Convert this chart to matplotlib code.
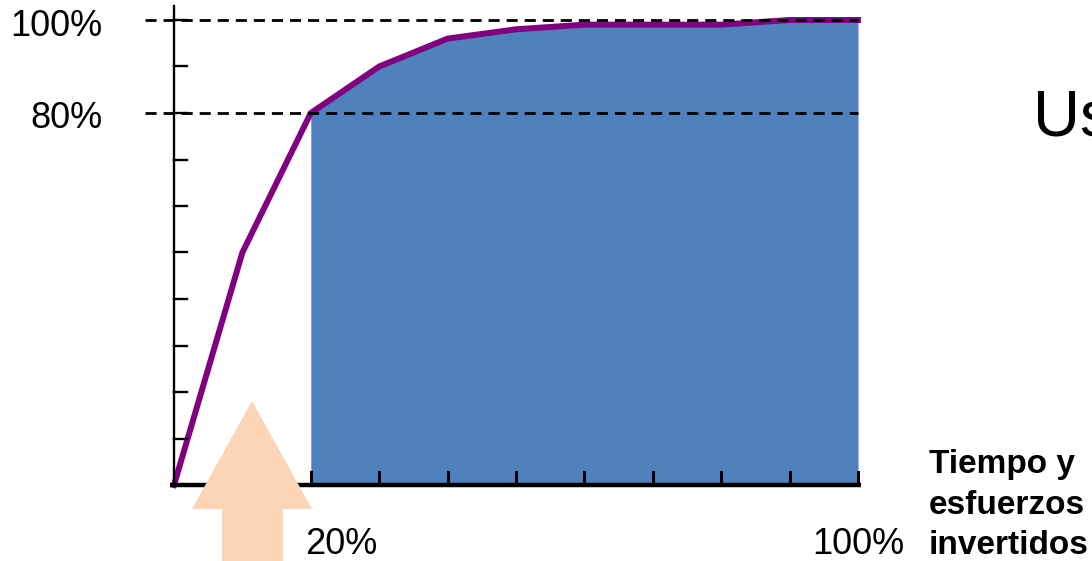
import matplotlib
matplotlib.use("Agg")
import matplotlib.pyplot as plt
from matplotlib.patches import Polygon
from matplotlib.transforms import Affine2D

plt.rcParams['font.family'] = ['Liberation Sans', 'DejaVu Sans']

# Cumulative share of results vs. share of effort (Pareto curve)
effort_pct = [0, 10, 20, 30, 40, 50, 60, 70, 80, 90, 100]
result_pct = [0, 50, 80, 90, 96, 98, 99, 99, 99, 100, 100]
x_tick_labels = {20: "20%", 100: "100%"}
y_tick_labels = {80: "80%", 100: "100%"}
axis_caption = "Tiempo y\nesfuerzos\ninvertidos"
side_title = "Us"

W, H = 1092, 561
fig = plt.figure(figsize=(W / 100, H / 100), dpi=100)
ax = fig.add_axes([174 / W, (H - 485) / H, 684 / W, 465 / H])
ax.set_xlim(0, 100)
ax.set_ylim(0, 100)
ax.axis("off")

# shaded region: the remaining 80% of effort
start = effort_pct.index(20)
ax.fill_between(effort_pct[start:], result_pct[start:], 0,
                color="#4F81BD", lw=0, zorder=1)

# curve
ax.plot(effort_pct, result_pct, color="#800080", lw=4.3,
        solid_joinstyle="miter", zorder=3, clip_on=False)

# axes lines
ax.plot([0, 0], [0, 103], color="black", lw=1.7, zorder=4, clip_on=False)
ax.plot([-0.6, 100.4], [0, 0], color="black", lw=3.2, zorder=4,
        clip_on=False, solid_capstyle="butt")

# ticks pointing inward
tick_len_x = 13 / 6.84
tick_len_y = 13 / 4.65
for v in range(10, 101, 10):
    ax.plot([0, tick_len_x], [v, v], color="black", lw=1.7, zorder=4,
            clip_on=False)
    ax.plot([v, v], [0, tick_len_y], color="black", lw=2.2, zorder=4,
            clip_on=False)

# reference dashed lines
for v in y_tick_labels:
    ax.plot([-4.2, 100], [v, v], color="black", lw=2.0,
            dashes=(4, 2.5), zorder=5, clip_on=False)

# tick labels
for v, s in y_tick_labels.items():
    ax.annotate(s, xy=(0, v), xytext=(-72, -6), textcoords="offset pixels",
                ha="right", va="center", fontsize=26, annotation_clip=False)
for v, s in x_tick_labels.items():
    dx = 30 if v == 20 else 0
    ax.annotate(s, xy=(v, 0), xytext=(dx, -60), textcoords="offset pixels",
                ha="center", va="center", fontsize=26, annotation_clip=False)

# caption and title
fig.text(929 / W, 1 - 505 / H, axis_caption, ha="left", va="center",
         fontsize=24, fontweight="bold", linespacing=1.4)
fig.text(1033 / W, 1 - 119 / H, side_title, ha="left", va="center",
         fontsize=47)

# upward arrow highlighting the vital few (pixel coordinates, origin top-left)
arrow_pts = [(252, 401), (312, 509), (283, 509), (283, 570),
             (222, 570), (222, 509), (192, 509)]
arrow = Polygon(arrow_pts, closed=True, facecolor="#FBD5B5",
                edgecolor="none", zorder=10,
                transform=Affine2D().scale(1, -1).translate(0, H))
fig.add_artist(arrow)

fig.savefig("out.png", dpi=100)
